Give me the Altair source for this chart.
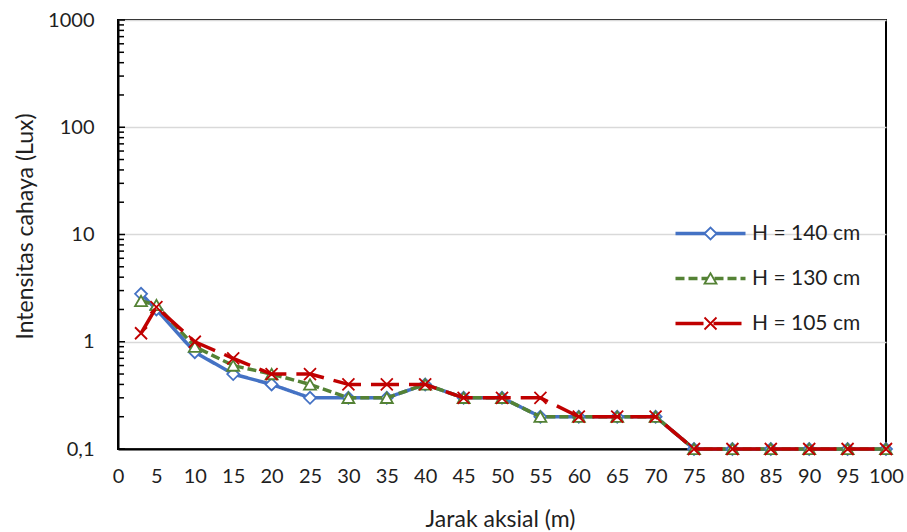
import altair as alt
import pandas as pd

# Light intensity along the axial distance for three lamp heights
jarak = [3, 5, 10, 15, 20, 25, 30, 35, 40, 45, 50, 55, 60, 65, 70, 75, 80, 85, 90, 95, 100]
h140 = [2.8, 2.0, 0.8, 0.5, 0.4, 0.3, 0.3, 0.3, 0.4, 0.3, 0.3, 0.2, 0.2, 0.2, 0.2, 0.1, 0.1, 0.1, 0.1, 0.1, 0.1]
h130 = [2.4, 2.2, 0.9, 0.6, 0.5, 0.4, 0.3, 0.3, 0.4, 0.3, 0.3, 0.2, 0.2, 0.2, 0.2, 0.1, 0.1, 0.1, 0.1, 0.1, 0.1]
h105 = [1.2, 2.1, 1.0, 0.7, 0.5, 0.5, 0.4, 0.4, 0.4, 0.3, 0.3, 0.3, 0.2, 0.2, 0.2, 0.1, 0.1, 0.1, 0.1, 0.1, 0.1]

series_names = ["H = 140 cm", "H = 130 cm", "H = 105 cm"]
marker_keys = ["m140", "m130", "m105"]
series_values = [h140, h130, h105]
series_colors = ["#4472C4", "#548235", "#C00000"]
series_dash = [[1, 0], [9, 4], [28, 10]]
marker_shapes = ["diamond", "triangle-up", "M-1,-1L1,1M-1,1L1,-1"]

x_ticks = [0, 5, 10, 15, 20, 25, 30, 35, 40, 45, 50, 55, 60, 65, 70, 75, 80, 85, 90, 95, 100]
y_ticks = [0.1, 1, 10, 100, 1000]
y_minor = [0.2, 0.3, 0.4, 0.5, 0.6, 0.7, 0.8, 0.9,
           2, 3, 4, 5, 6, 7, 8, 9,
           20, 30, 40, 50, 60, 70, 80, 90,
           200, 300, 400, 500, 600, 700, 800, 900]

FONT = "Lato"
TEXT = "#1f1f1f"

rows = []
for name, key, vals in zip(series_names, marker_keys, series_values):
    for xv, yv in zip(jarak, vals):
        rows.append({"jarak": xv, "lux": yv, "seri": name, "penanda": key})
df = pd.DataFrame(rows)

x_enc = alt.X(
    "jarak:Q",
    scale=alt.Scale(domain=[0, 100], nice=False),
    axis=alt.Axis(
        values=x_ticks, title="Jarak aksial (m)", grid=False, ticks=False,
        labelFontSize=20, labelPadding=17, labelFlush=False,
        titleFontSize=23, titleFontWeight="normal", titleX=382, titleY=70,
        titleBaseline="middle",
    ),
)
y_scale = alt.Scale(type="log", domain=[0.1, 1000], nice=False)
y_axis = alt.Axis(
    values=y_ticks, title="Intensitas cahaya (Lux)", grid=True,
    gridColor="#d9d9d9", gridWidth=1.5, ticks=False,
    labelExpr="datum.value < 1 ? '0,1' : format(datum.value, 'd')",
    labelFontSize=20, labelPadding=24, labelFlush=False,
    titleFontSize=23, titleFontWeight="normal",
    titleX=-93, titleY=206, titleBaseline="middle", titleAlign="center",
)
y_enc = alt.Y("lux:Q", scale=y_scale, axis=y_axis)

# line part of the legend (carries the labels)
line_legend = alt.Legend(
    orient="none", legendX=582, legendY=203, title=None,
    symbolType="M-10,0H10", symbolSize=49, symbolStrokeWidth=3.5,
    labelFont=FONT, labelFontSize=21, labelColor=TEXT, labelOffset=31,
    rowPadding=23, padding=0,
)
# marker part of the legend, drawn over the line symbols
marker_legend = alt.Legend(
    orient="none", legendX=582, legendY=203, title=None,
    symbolSize=144, symbolStrokeWidth=1.8, symbolFillColor="white",
    labelFont=FONT, labelFontSize=21, labelExpr="''", labelOffset=31,
    rowPadding=23, padding=0,
)

color_scale = alt.Scale(domain=series_names, range=series_colors)
dash_scale = alt.Scale(domain=series_names, range=series_dash)
stroke_scale = alt.Scale(domain=marker_keys, range=series_colors)
shape_scale = alt.Scale(domain=marker_keys, range=marker_shapes)

base = alt.Chart(df)
layers = []
for name in series_names:
    sub = base.transform_filter(alt.datum.seri == name)
    layers.append(
        sub.mark_line(strokeWidth=3.5, strokeJoin="round").encode(
            x=x_enc, y=y_enc,
            color=alt.Color("seri:N", scale=color_scale, legend=line_legend),
            strokeDash=alt.StrokeDash("seri:N", scale=dash_scale, legend=line_legend),
        )
    )
    layers.append(
        sub.mark_point(fill="white", fillOpacity=1, opacity=1, size=144, strokeWidth=1.8).encode(
            x=x_enc, y=y_enc,
            stroke=alt.Stroke("penanda:N", scale=stroke_scale, legend=marker_legend),
            shape=alt.Shape("penanda:N", scale=shape_scale, legend=marker_legend),
        )
    )

# inward ticks on the logarithmic axis
major = alt.Chart(pd.DataFrame({"lux": y_ticks})).mark_rule(color="black", strokeWidth=1.5).encode(
    y=y_enc, x=alt.value(0), x2=alt.value(7)
)
minor = alt.Chart(pd.DataFrame({"lux": y_minor})).mark_rule(color="black", strokeWidth=1.5).encode(
    y=y_enc, x=alt.value(0), x2=alt.value(6)
)

chart = (
    alt.layer(*layers, major, minor)
    .properties(
        width=768, height=429,
        autosize=alt.AutoSizeParams(type="none"),
        padding={"left": 118, "top": 20, "right": 21, "bottom": 83},
        background="white",
    )
    .configure_view(stroke="black", strokeWidth=2)
    .configure_axis(
        labelFont=FONT, titleFont=FONT, labelColor=TEXT, titleColor=TEXT,
        domainColor="black", domainWidth=2,
    )
)

chart.save("out.html", embed_options={"renderer": "svg", "actions": False})
